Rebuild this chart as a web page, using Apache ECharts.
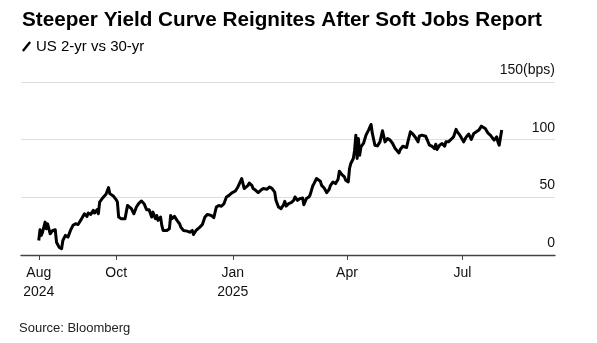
<!DOCTYPE html>
<html>
<head>
<meta charset="utf-8">
<script src="https://cdn.jsdelivr.net/npm/echarts@6/dist/echarts.min.js"></script>
<style>
  html, body { margin: 0; padding: 0; background: #fff; }
  #chart { width: 597px; height: 343px; }
</style>
</head>
<body>
<div id="chart"></div>
<script>
// US 2-year vs 30-year Treasury yield spread, basis points
const dates = [
  '2024-08-01','2024-08-02','2024-08-03','2024-08-04','2024-08-06','2024-08-07','2024-08-08','2024-08-10',
  '2024-08-12','2024-08-14','2024-08-15','2024-08-17','2024-08-19','2024-08-20','2024-08-22','2024-08-24',
  '2024-08-26','2024-08-28','2024-08-30','2024-09-01','2024-09-03','2024-09-04','2024-09-06','2024-09-08',
  '2024-09-09','2024-09-11','2024-09-13','2024-09-14','2024-09-16','2024-09-17','2024-09-18','2024-09-20',
  '2024-09-21','2024-09-23','2024-09-25','2024-09-26','2024-09-27','2024-09-29','2024-10-01','2024-10-02',
  '2024-10-03','2024-10-05','2024-10-08','2024-10-10','2024-10-11','2024-10-13','2024-10-15','2024-10-17',
  '2024-10-19','2024-10-21','2024-10-23','2024-10-25','2024-10-27','2024-10-28','2024-10-29','2024-10-30',
  '2024-11-01','2024-11-02','2024-11-03','2024-11-05','2024-11-06','2024-11-07','2024-11-10','2024-11-12',
  '2024-11-13','2024-11-14','2024-11-16','2024-11-18','2024-11-20','2024-11-21','2024-11-23','2024-11-24',
  '2024-11-26','2024-11-28','2024-11-30','2024-12-01','2024-12-03','2024-12-04','2024-12-06','2024-12-08',
  '2024-12-10','2024-12-12','2024-12-13','2024-12-15','2024-12-17','2024-12-19','2024-12-21','2024-12-23',
  '2024-12-25','2024-12-26','2024-12-27','2024-12-29','2024-12-31','2025-01-01','2025-01-03','2025-01-05',
  '2025-01-06','2025-01-08','2025-01-10','2025-01-11','2025-01-13','2025-01-14','2025-01-16','2025-01-17',
  '2025-01-19','2025-01-21','2025-01-23','2025-01-25','2025-01-28','2025-01-30','2025-02-01','2025-02-03',
  '2025-02-04','2025-02-06','2025-02-08','2025-02-10','2025-02-11','2025-02-12','2025-02-14','2025-02-16',
  '2025-02-18','2025-02-19','2025-02-21','2025-02-23','2025-02-25','2025-02-26','2025-02-28','2025-03-02',
  '2025-03-03','2025-03-05','2025-03-06','2025-03-08','2025-03-11','2025-03-12','2025-03-14','2025-03-16',
  '2025-03-18','2025-03-19','2025-03-21','2025-03-23','2025-03-25','2025-03-26','2025-03-28','2025-03-30',
  '2025-03-31','2025-04-02','2025-04-03','2025-04-04','2025-04-05','2025-04-06','2025-04-07','2025-04-08',
  '2025-04-09','2025-04-10','2025-04-11','2025-04-12','2025-04-13','2025-04-14','2025-04-16','2025-04-18',
  '2025-04-20','2025-04-21','2025-04-23','2025-04-25','2025-04-27','2025-04-28','2025-04-29','2025-05-01',
  '2025-05-03','2025-05-05','2025-05-07','2025-05-09','2025-05-12','2025-05-13','2025-05-15','2025-05-18',
  '2025-05-19','2025-05-21','2025-05-23','2025-05-25','2025-05-27','2025-05-28','2025-05-30','2025-06-02',
  '2025-06-03','2025-06-05','2025-06-07','2025-06-09','2025-06-10','2025-06-11','2025-06-13','2025-06-15',
  '2025-06-17','2025-06-18','2025-06-20','2025-06-22','2025-06-24','2025-06-26','2025-06-27','2025-06-29',
  '2025-07-01','2025-07-02','2025-07-04','2025-07-06','2025-07-08','2025-07-10','2025-07-12','2025-07-14',
  '2025-07-16','2025-07-17','2025-07-19','2025-07-21','2025-07-23','2025-07-24','2025-07-26','2025-07-28',
  '2025-07-29','2025-07-30','2025-07-31','2025-08-01'
];

const spread = [
  12.6, 21.9, 17.0, 19.8, 28.5, 22.8, 27.0, 18.4,
  21.3, 21.9, 11.1, 6.8, 5.4, 12.6, 17.0, 15.5,
  21.3, 25.7, 27.1, 26.5, 30.0, 28.5, 35.8, 33.5,
  36.4, 35.2, 38.7, 36.4, 39.3, 35.8, 45.9, 48.9,
  50.3, 52.6, 58.4, 53.2, 54.6, 50.9, 48.0, 45.9,
  32.9, 31.5, 31.5, 43.0, 44.5, 40.2, 35.8, 41.6,
  45.0, 46.8, 44.5, 39.3, 39.3, 40.2, 32.9, 37.2,
  31.5, 34.3, 30.0, 32.9, 25.7, 21.3, 21.3, 22.8,
  34.3, 31.5, 33.5, 30.0, 27.1, 24.2, 21.3, 22.8,
  20.7, 19.8, 21.3, 17.8, 21.3, 19.8, 24.2, 26.5,
  32.9, 35.2, 36.4, 34.3, 32.3, 41.6, 43.0, 42.2,
  44.5, 47.4, 50.3, 51.7, 53.7, 53.2, 55.5, 59.0,
  60.4, 66.3, 57.6, 59.0, 60.4, 62.4, 60.4, 57.6,
  56.1, 54.1, 56.1, 57.6, 57.0, 59.0, 57.6, 54.6,
  47.4, 41.6, 40.2, 43.6, 46.5, 42.4, 44.5, 45.4,
  47.4, 50.3, 47.4, 48.9, 49.4, 43.6, 48.9, 50.3,
  52.3, 59.8, 61.9, 66.3, 63.9, 60.4, 58.1, 54.1,
  57.0, 60.4, 63.3, 61.9, 65.7, 72.6, 69.7, 67.7,
  64.8, 63.3, 75.0, 79.3, 77.8, 83.7, 90.9, 103.9,
  83.7, 101.0, 86.5, 93.7, 92.3, 96.7, 103.9, 108.3,
  113.2, 105.4, 95.2, 94.6, 98.1, 99.6, 107.7, 98.1,
  101.0, 99.6, 96.7, 92.3, 88.5, 91.5, 94.3, 93.2,
  98.1, 106.8, 104.8, 101.9, 98.1, 103.0, 103.9, 103.0,
  101.9, 95.2, 94.3, 92.3, 96.1, 91.5, 95.2, 96.7,
  94.3, 98.1, 98.1, 100.2, 102.4, 108.9, 106.8, 103.9,
  100.2, 98.1, 102.4, 104.8, 100.2, 105.4, 106.8, 108.3,
  111.7, 111.7, 109.7, 105.9, 103.9, 103.0, 99.6, 102.4,
  98.1, 95.2, 94.3, 108.3
];

// Date axis range and labelled ticks
const axisStart = '2024-07-18';
const axisEnd = '2025-09-12';
const tickDates = ['2024-08-01', '2024-10-01', '2025-01-01', '2025-04-01', '2025-07-01'];
const tickLabels = ['Aug\n2024', 'Oct', 'Jan\n2025', 'Apr', 'Jul'];

const seriesName = 'US 2-yr vs 30-yr';
const FONT = 'Liberation Sans, Arial, sans-serif';

const toTime = d => Date.UTC(+d.slice(0, 4), +d.slice(5, 7) - 1, +d.slice(8, 10));
const tickTimes = tickDates.map(toTime);
const labelFor = {};
tickTimes.forEach((t, i) => { labelFor[t] = tickLabels[i]; });

const chart = echarts.init(document.getElementById('chart'), null, { renderer: 'canvas' });

chart.setOption({
  animation: false,
  backgroundColor: '#fff',
  title: {
    text: 'Steeper Yield Curve Reignites After Soft Jobs Report',
    left: 17,
    top: 5,
    textStyle: { fontFamily: FONT, fontSize: 20.7, fontWeight: 'bold', color: '#000' }
  },
  legend: {
    left: 17,
    top: 34,
    itemWidth: 9,
    itemHeight: 12,
    itemGap: 7,
    icon: 'path://M0,10 L8,0 L10,1.6 L2,11.6 Z',
    textStyle: { fontFamily: FONT, fontSize: 15, color: '#000' },
    data: [seriesName]
  },
  graphic: [{
    type: 'text',
    left: 19,
    top: 322,
    style: { text: 'Source: Bloomberg', fontFamily: FONT, fontSize: 13, fill: '#222' }
  }],
  grid: { left: 21, right: 42, top: 82, bottom: 88, containLabel: false },
  xAxis: {
    type: 'value',
    min: toTime(axisStart),
    max: toTime(axisEnd),
    splitLine: { show: false },
    axisLine: { show: true, lineStyle: { color: '#444', width: 1.3 } },
    axisTick: {
      show: true,
      length: 5,
      customValues: tickTimes,
      lineStyle: { color: '#444', width: 1 }
    },
    axisLabel: {
      customValues: tickTimes,
      formatter: v => labelFor[v] || '',
      fontFamily: FONT,
      fontSize: 14,
      color: '#111',
      lineHeight: 19,
      margin: 9,
      showMinLabel: true,
      showMaxLabel: true
    }
  },
  yAxis: {
    type: 'value',
    position: 'right',
    min: 0,
    max: 150,
    interval: 50,
    axisLine: { show: false },
    axisTick: { show: false },
    splitLine: { show: true, lineStyle: { color: '#dedede', width: 1 } },
    axisLabel: {
      inside: true,
      margin: 0,
      verticalAlign: 'bottom',
      lineHeight: 14,
      padding: [0, 0, 5, 0],
      fontFamily: FONT,
      fontSize: 14,
      color: '#111',
      formatter: v => (v === 150 ? '150(bps)' : String(v))
    }
  },
  series: [{
    name: seriesName,
    type: 'line',
    showSymbol: false,
    symbol: 'none',
    lineStyle: { color: '#000', width: 3, join: 'round' },
    itemStyle: { color: '#000' },
    data: dates.map((d, i) => [toTime(d), spread[i]])
  }]
});
</script>
</body>
</html>
